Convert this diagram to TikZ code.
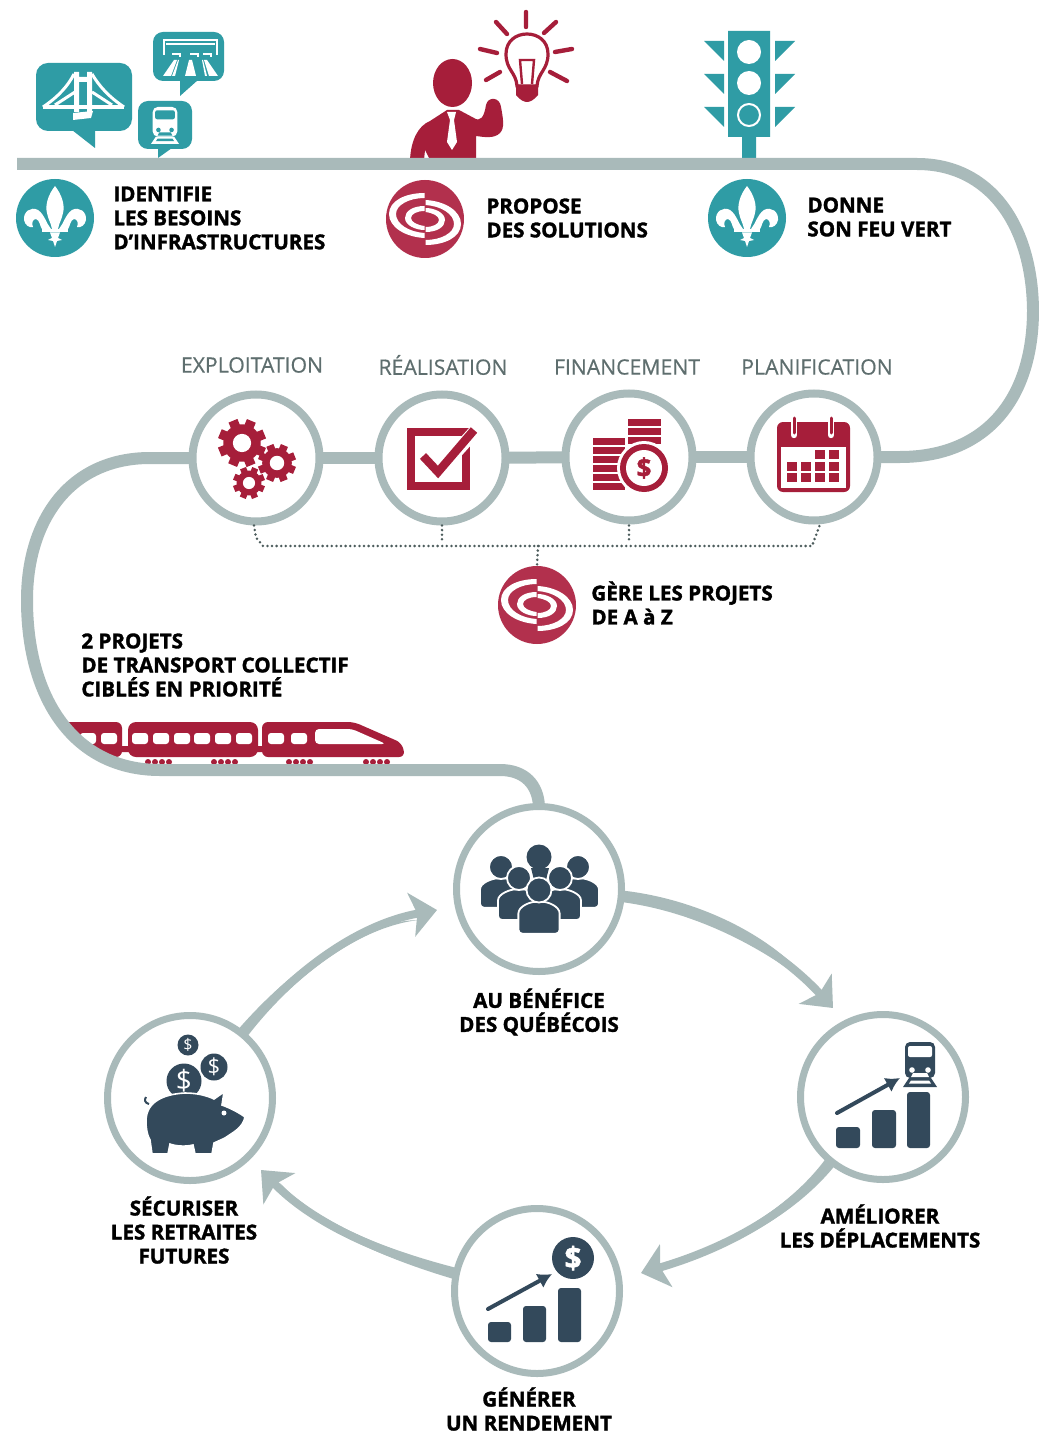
\documentclass[tikz,border=0pt]{standalone}
\usepackage{fontspec}
\setmainfont{Open Sans}[BoldFeatures={FakeBold=1.6}]
\newfontfamily\stagefont{Open Sans}[FakeBold=0.5]
\usetikzlibrary{arrows.meta,calc}
\definecolor{railc}{HTML}{A9BABA}
\definecolor{tealc}{HTML}{2F9CA5}
\definecolor{crim}{HTML}{A61E3A}
\definecolor{logoc}{HTML}{B2304D}
\definecolor{darkc}{HTML}{33495B}
\definecolor{greyt}{HTML}{5E6E6E}
\definecolor{dotc}{HTML}{4C5C5C}
\tikzset{
 rail/.style={draw=railc,line width=6pt},
 loopcurve/.style={draw=railc,line width=4pt,-{Stealth[length=13pt,width=22pt,inset=3pt]}},
 taper/.style={fill=railc},
 ringa/.style={circle,draw=railc,fill=white,line width=4pt,inner sep=0pt,outer sep=0pt,minimum size=63.5pt},
 ringb/.style={circle,draw=railc,fill=white,line width=3.5pt,inner sep=0pt,outer sep=0pt,minimum size=82.5pt},
 tealdisc/.style={circle,fill=tealc,inner sep=0pt,outer sep=0pt,minimum size=39pt},
 logodisc/.style={circle,fill=logoc,inner sep=0pt,outer sep=0pt,minimum size=39pt},
 bold/.style={inner sep=0pt,font=\bfseries\fontsize{10.3}{12}\selectfont,text=black},
 boldl/.style={bold,align=left,anchor=west},
 boldc/.style={bold,align=center},
 stage/.style={inner sep=0pt,font=\stagefont\fontsize{10.6}{12}\selectfont,text=greyt},
 dots/.style={draw=dotc,line width=1.4pt,line cap=round,dash pattern=on 0pt off 2.3pt},
 dollar/.style={inner sep=0pt,font=\bfseries\fontsize{#1}{#1}\selectfont,text=white},
}
\newcommand\gearico[3]{\begin{scope}[shift={(#1,#2)},scale=#3]
\fill[crim] (0,0) circle (0.78);
\foreach \a in {0,45,...,315}{\fill[crim,rotate=\a+22] (-.2,-1) rectangle (.2,0);}
\fill[white] (0,0) circle (.38);
\end{scope}}
\newcommand\persico[5]{\begin{scope}[shift={(#1,#2)},scale=#3]
\fill[darkc,draw=white,line width=.9pt,rounded corners=2pt] (-#5,#4) -- (-#5,2.2) .. controls (-#5,1.3) and (-.7,.95) .. (0,.95) .. controls (.7,.95) and (#5,1.3) .. (#5,2.2) -- (#5,#4) -- cycle;
\fill[darkc,draw=white,line width=.9pt] (0,0) circle (1);
\end{scope}}
\newcommand\trainico[5]{\begin{scope}[shift={(#1,#2)},scale=#3]
\fill[#4,rounded corners=2.5pt] (-15,0) rectangle (15,36);
\fill[#5,rounded corners=1pt] (-12,4) rectangle (12,15);
\fill[#5] (-8,28) circle (2.8) (8,28) circle (2.8);
\fill[#5] (-7,31) -- (7,31) -- (9,35) -- (-9,35) -- cycle;
\fill[#4] (-11,36) -- (11,36) -- (17,45) -- (-17,45) -- cycle;
\fill[#5] (-9,38.5) -- (9,38.5) -- (11,41.5) -- (-11,41.5) -- cycle;
\end{scope}}
\newcommand\fleurico[2]{\begin{scope}[shift={(#1,#2)}]
\fill[white] (0,-32) .. controls (7,-23) and (10,-13) .. (8,-5) .. controls (7,1) and (4,5) .. (3,11) -- (-3,11) .. controls (-4,5) and (-7,1) .. (-8,-5) .. controls (-10,-13) and (-7,-23) .. (0,-32) -- cycle;
\foreach \s in {1,-1}{
\fill[white,xscale=\s] (4,11) .. controls (9,5) and (10,-3) .. (17,-8) .. controls (24,-12) and (32,-6) .. (31,2) .. controls (30,7) and (26,10) .. (22,9) .. controls (24,5) and (22,1) .. (19,1) .. controls (15,2) and (15,9) .. (13,11) -- cycle;}
\fill[white] (-13,11) rectangle (13,14.5);
\fill[white] (-5,14.5) -- (5,14.5) -- (3,20) -- (7,22) -- (2,23) -- (0,29) -- (-2,23) -- (-7,22) -- (-3,20) -- cycle;
\end{scope}}
\newcommand\swirlico[2]{\begin{scope}[shift={(#1,#2)}]
\foreach \r in {0,180}{\begin{scope}[rotate=\r]
\fill[white] (-.5,-26) .. controls (-20,-26) and (-36,-18) .. (-36,-5) .. controls (-36,8) and (-20,18) .. (-.5,19) -- (-.5,14) .. controls (-16,13) and (-29,5) .. (-29,-5) .. controls (-29,-14) and (-16,-21) .. (-.5,-21) -- cycle;
\fill[white] (-.5,-13) .. controls (-12,-13) and (-20,-8) .. (-20,-1) .. controls (-20,6) and (-10,11) .. (-.5,11) -- (-.5,7) .. controls (-8,6) and (-14,3) .. (-14,-1) .. controls (-14,-5) and (-8,-8) .. (-.5,-8) -- cycle;
\end{scope}}
\end{scope}}
\begin{document}
\begin{tikzpicture}[x=0.5pt,y=-0.5pt]
\useasboundingbox[fill=white] (0,0) rectangle (1038,1433);
% ---- train
\fill[crim,rounded corners=3pt] (60,722) -- (122,722) -- (122,757) -- (108,757) -- cycle;
\fill[crim,rounded corners=4pt] (128,722) rectangle (258,757);
\fill[crim] (120,746) rectangle (130,752) (256,746) rectangle (264,752);
\fill[crim,rounded corners=3pt] (262,757) -- (262,722) -- (354,722) -- (402,743) -- (405,757) -- cycle;
\fill[white,rounded corners=2pt] (315,729) -- (352,729) -- (386,744) -- (315,744) -- cycle;
\foreach \x in {80,101,132,153,174,194,215,236,268,291}{\fill[white,rounded corners=1.5pt] (\x,733) rectangle ++(16,11);}
\foreach \x in {145,211,286,363}{\foreach \d in {0,7,14,21}{\fill[crim] (\x+\d+3,762) circle (3);}}
% ---- row of stage circles
\node[ringa] (c1) at (256,458) {};
\node[ringa] (c2) at (442,458) {};
\node[ringa] (c3) at (629,457) {};
\node[ringa] (c4) at (814,457) {};
\node[ringb] (ctop) at (539,889) {};
\node[ringb] (cright) at (883,1097) {};
\node[ringb] (cbot) at (537,1291) {};
\node[ringb] (cleft) at (190,1098) {};
% ---- person, bulb, speech bubbles, traffic light (above the rail)
\fill[crim] (452.5,83) ellipse (19.5 and 24);
\fill[crim] (410,160) .. controls (411,140) and (418,126) .. (430,121) -- (447,110) -- (459,110) -- (474,118) .. controls (480,122) and (484,118) .. (486,105) .. controls (488,96) and (500,97) .. (501,107) .. controls (503,118) and (505,128) .. (500,133) .. controls (494,139) and (484,137) .. (476,136) -- (476,160) -- (430,160) -- (425,150) -- (424,160) -- cycle;
\fill[white] (447,112) -- (456,112) -- (454,120) -- (457,142) -- (452,150) -- (447,142) -- (450,120) -- cycle;
\draw[crim,line width=1.6pt] (517,86) .. controls (516,72) and (506,70) .. (506,54) .. controls (506,41) and (516,34) .. (527,34) .. controls (538,34) and (548,41) .. (548,54) .. controls (548,70) and (538,72) .. (537,86) -- cycle;
\draw[crim,line width=1.2pt] (522,84) -- (520,60) -- (534,60) -- (532,84);
\fill[crim] (516,85) -- (538,85) -- (538,95) .. controls (534,100) and (530,102) .. (527,102) .. controls (524,102) and (520,100) .. (516,95) -- cycle;
\draw[crim,line width=2.2pt,line cap=round] (496,22) -- (507,34) (480,49) -- (497,53) (486,80) -- (500,72) (526,12) -- (526,27) (556,22) -- (544,33) (572,49) -- (555,52) (550,72) -- (567,81);
% bubbles
\fill[tealc,rounded corners=6pt] (36,63) rectangle (132,131);
\fill[tealc] (72,130) -- (95,148) -- (95,130) -- cycle;
\fill[tealc,rounded corners=5pt] (153,32) rectangle (224,81);
\fill[tealc] (180,80) -- (180,96) -- (198,80) -- cycle;
\fill[tealc,rounded corners=5pt] (138,101) rectangle (192,149);
\fill[tealc] (158,148) -- (158,158) -- (172,148) -- cycle;
\draw[white,line width=2pt] (43,107) -- (124,107);
\draw[white,line width=1.5pt] (43,107) .. controls (58,97) and (68,86) .. (74,74) (124,107) .. controls (109,97) and (99,86) .. (92,74) (55,105) -- (75,92) (112,105) -- (92,92);
\fill[white] (74,72) rectangle (79,112) (87,72) rectangle (92,112) (74,77) rectangle (92,82);
\fill[white] (73,113) -- (93,111) -- (91,118) -- (73,120) -- cycle;
\draw[white,line width=1.3pt] (164,55) -- (164,40) -- (217,40) -- (217,55) (166,44) -- (215,44);
\draw[white,line width=.8pt] (172,54) -- (180,54) -- (180,57) (190,54) -- (198,54) -- (198,57) (203,54) -- (211,54) -- (211,57);
\fill[white] (163,76) -- (171,76) -- (177,60) -- (174,60) -- cycle;
\fill[white] (172,76) -- (175,76) -- (179,60) -- (178,60) -- cycle;
\fill[white] (185,76) -- (196,76) -- (192,60) -- (189,60) -- cycle;
\fill[white] (209,76) -- (218,76) -- (207,60) -- (204,60) -- cycle;
\fill[white] (205,76) -- (207,76) -- (203,60) -- (202,60) -- cycle;
\trainico{165}{107}{.82}{white}{tealc}
% traffic light
\fill[tealc] (728,31) rectangle (770,137) (742,136) rectangle (756,161);
\fill[white] (749,52) circle (12) (749,83) circle (12);
\draw[white,line width=1pt] (749,115) circle (11);
\foreach \y in {41,74,107}{
\fill[tealc] (704,\y) -- (724,\y) -- (724,\y+20) -- cycle;
\fill[tealc] (795,\y) -- (775,\y) -- (775,\y+20) -- cycle;}
% ---- rail
\coordinate (railstart) at (17,164);
\coordinate (railstraight) at (917,164);
\draw[rail] (railstart) -- (railstraight) .. controls (990,164) and (1032,225) .. (1033,310) .. controls (1033,400) and (985,457) .. (900,457) -- (c4.east);
\draw[rail] (c4) -- (c3);
\draw[rail] (c3) -- (c2);
\draw[rail] (c2) -- (c1);
\coordinate (railflat) at (160,770);
\coordinate (railflatend) at (500,770);
\draw[rail] (c1.west) -- (150,458) .. controls (70,458) and (27,520) .. (27,600) .. controls (27,700) and (75,770) .. (railflat) -- (railflatend) .. controls (525,770) and (538,785) .. (ctop.north);
% ---- stage icons
\gearico{242}{443}{24}
\gearico{277}{463}{19}
\gearico{249}{483}{16}
\draw[crim,line width=4pt] (411,432) rectangle (466,486);
\draw[white,line width=6.5pt] (423,455) -- (438,472) -- (476,430);
\draw[crim,line width=4.2pt] (423,456) -- (438,472) -- (474,430);
\foreach \y in {438,447,456,465,474,483}{\fill[crim] (593,\y) rectangle (625,\y+7);}
\foreach \y in {419,428,437}{\fill[crim] (628,\y) rectangle (661,\y+7);}
\fill[white] (644,468) circle (27);
\fill[crim] (644,468) circle (24);
\node[circle,fill=white,inner sep=0pt,minimum size=18pt,text=crim,font=\bfseries\fontsize{13}{13}\selectfont] (coinmark) at (644,468) {\$};
\fill[crim,rounded corners=3pt] (777,422) rectangle (850,492);
\fill[white] (781,447) rectangle (846,488);
\foreach \x in {794,831}{\draw[white,line width=3.2pt,line cap=round] (\x,417) -- (\x,435);\draw[crim,line width=1.5pt,line cap=round] (\x,418) -- (\x,433);}
\foreach \x/\y in {815/450,829/450,787/462,801/462,815/462,829/462,787/473,801/473,815/473,829/473}{\fill[crim] (\x,\y) rectangle ++(10,9);}
% ---- people
\fill[darkc] (531,868) -- (549,868) -- (546,880) -- (534,880) -- cycle;
\fill[darkc] (539,857) circle (12.5);
\persico{501}{867}{12}{3.4}{1.75}
\persico{578}{867}{12}{3.4}{1.75}
\persico{519}{878}{12}{3.5}{1.75}
\persico{560}{878}{12}{3.5}{1.75}
\persico{539}{890}{12.5}{3.5}{1.65}
% ---- improve icon
\fill[darkc,rounded corners=1.5pt] (836,1148) |- (860,1127) -- (860,1148) -- cycle;
\fill[darkc,rounded corners=1.5pt] (872,1148) |- (896,1110) -- (896,1148) -- cycle;
\fill[darkc,rounded corners=1.5pt] (907,1148) |- (930,1092) -- (930,1148) -- cycle;
\draw[darkc,line width=2pt,line cap=round,-{Latex[length=7pt,width=8pt]}] (837,1113) -- (900,1078);
\trainico{920}{1042}{1}{darkc}{white}
% ---- yield icon
\fill[darkc,rounded corners=1.5pt] (488,1342) |- (511,1322) -- (511,1342) -- cycle;
\fill[darkc,rounded corners=1.5pt] (523,1342) |- (546,1306) -- (546,1342) -- cycle;
\fill[darkc,rounded corners=1.5pt] (558,1342) |- (581,1288) -- (581,1342) -- cycle;
\draw[darkc,line width=2pt,line cap=round,-{Latex[length=7pt,width=8pt]}] (488,1309) -- (552,1274);
\node[circle,fill=darkc,inner sep=0pt,minimum size=21pt,dollar=15] (yieldcoin) at (573,1258) {\$};
% ---- piggy
\node[circle,fill=darkc,inner sep=0pt,minimum size=10.5pt,text=white,font=\fontsize{8}{8}\selectfont] (pc1) at (188,1045) {\$};
\node[circle,fill=darkc,inner sep=0pt,minimum size=13.5pt,text=white,font=\fontsize{11}{11}\selectfont] (pc2) at (214,1067) {\$};
\node[circle,fill=darkc,inner sep=0pt,minimum size=17.5pt,text=white,font=\fontsize{14}{14}\selectfont] (pc3) at (184,1081) {\$};
\fill[darkc,draw=white,line width=.8pt] (146,1121) .. controls (146,1101) and (165,1094) .. (185,1093) .. controls (198,1093) and (208,1096) .. (214,1099) -- (224,1092) -- (222,1105) .. controls (233,1109) and (241,1114) .. (245,1117) .. controls (243,1128) and (232,1133) .. (225,1138) -- (214,1143) -- (212,1154) -- (195,1154) -- (193,1145) .. controls (185,1147) and (175,1146) .. (170,1144) -- (168,1154) -- (152,1154) -- (150,1140) .. controls (147,1135) and (146,1128) .. (146,1121) -- cycle;
\draw[darkc,line width=1pt] (149,1104) .. controls (145,1103) and (144,1100) .. (146,1097);
\fill[white] (224,1113) circle (2.5);
% ---- loop arrows
\coordinate (tipa) at (833,1008);
\coordinate (tipb) at (641,1273);
\coordinate (tipc) at (261,1170);
\coordinate (tipd) at (437,910);
\fill[taper] (ctop.-1) .. controls (700,899) and (778,938) .. (816,990) .. controls (770,952) and (700,912) .. (ctop.-9) -- cycle;
\fill[taper] (cright.227) .. controls (788,1211) and (719,1247) .. (670,1262) .. controls (721,1253) and (792,1219) .. (cright.235) -- cycle;
\fill[taper] (cbot.164) .. controls (371,1246) and (311,1217) .. (280,1183) .. controls (309,1223) and (369,1254) .. (cbot.172) -- cycle;
\fill[taper] (cleft.55) .. controls (288,972) and (354,922) .. (418,920) .. controls (356,928) and (292,978) .. (cleft.47) -- cycle;
\draw[loopcurve] (ctop.-5) .. controls (700,905) and (775,945) .. (tipa);
\draw[loopcurve] (cright.231) .. controls (790,1215) and (720,1250) .. (tipb);
\draw[loopcurve] (cbot.168) .. controls (370,1250) and (310,1220) .. (tipc);
\draw[loopcurve] (cleft.51) .. controls (290,975) and (355,925) .. (tipd);
% ---- discs and marks
\node[tealdisc] (q1) at (55,218) {};
\node[tealdisc] (q2) at (747,218) {};
\fleurico{55}{218}
\fleurico{747}{218}
\node[logodisc] (logoa) at (425,219) {};
\node[logodisc] (logob) at (537,605) {};
\swirlico{425}{219}
\swirlico{537}{605}
% ---- dotted bracket
\coordinate (busl) at (263,546);
\coordinate (busr) at (812,546);
\coordinate (busm) at (538,546);
\draw[dots] ($(c1.south)+(-2,4)$) -- ++(2,12) -- (busl) -- (busr) -- ($(c4.south)+(6,4)$);
\draw[dots] ($(c2.south)+(0,4)$) -- ($(c2.south)+(0,20)$);
\draw[dots] ($(c3.south)+(0,5)$) -- ($(c3.south)+(0,21)$);
\draw[dots] (busm) -- (logob.north);
% ---- text
\node[boldl] (t1) at (113,218) {IDENTIFIE\\LES BESOINS\\D’INFRASTRUCTURES};
\node[boldl] (t2) at (486,218) {PROPOSE\\DES SOLUTIONS};
\node[boldl] (t3) at (807,217) {DONNE\\SON FEU VERT};
\node[stage] (s1) at (252,365) {EXPLOITATION};
\node[stage] (s2) at (443,365) {RÉALISATION};
\node[stage] (s3) at (627,367) {FINANCEMENT};
\node[stage] (s4) at (817,367) {PLANIFICATION};
\node[boldl] (t4) at (591,603) {GÈRE LES PROJETS\\DE A à Z};
\node[boldl] (t5) at (81,665) {2 PROJETS\\DE TRANSPORT COLLECTIF\\CIBLÉS EN PRIORITÉ};
\node[boldc] (t6) at (539,1012) {AU BÉNÉFICE\\DES QUÉBÉCOIS};
\node[boldc] (t7) at (880,1226) {AMÉLIORER\\LES DÉPLACEMENTS};
\node[boldc] (t8) at (184,1230) {SÉCURISER\\LES RETRAITES\\FUTURES};
\node[boldc] (t9) at (529,1409) {GÉNÉRER\\UN RENDEMENT};
\end{tikzpicture}
\end{document}
